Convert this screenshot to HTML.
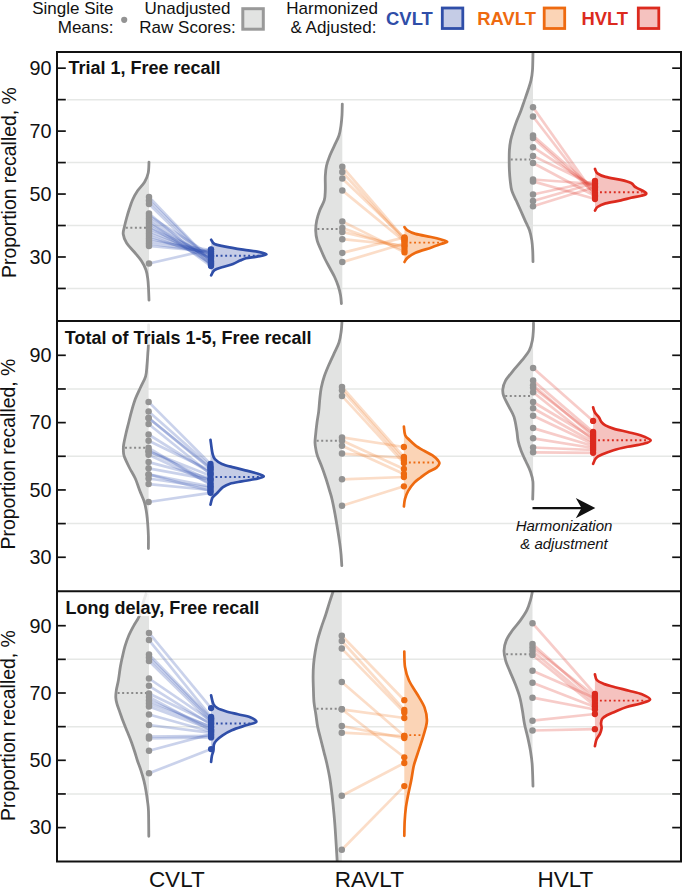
<!DOCTYPE html>
<html><head><meta charset="utf-8"><title>chart</title>
<style>html,body{margin:0;padding:0;background:#fff;}svg{display:block;}</style>
</head><body>
<svg width="685" height="889" viewBox="0 0 685 889" font-family='"Liberation Sans", sans-serif'>
<rect width="685" height="889" fill="#ffffff"/>
<defs>
<clipPath id="c0"><rect x="57" y="52" width="624" height="269"/></clipPath>
<clipPath id="c1"><rect x="57" y="321" width="624" height="270.3"/></clipPath>
<clipPath id="c2"><rect x="57" y="591.3" width="624" height="270.2"/></clipPath>
</defs>
<g clip-path="url(#c0)">
<line x1="67" x2="671" y1="288.46" y2="288.46" stroke="#e6e8e6" stroke-width="1.5"/>
<line x1="67" x2="671" y1="225.52" y2="225.52" stroke="#e6e8e6" stroke-width="1.5"/>
<line x1="67" x2="671" y1="162.58" y2="162.58" stroke="#e6e8e6" stroke-width="1.5"/>
<line x1="67" x2="671" y1="99.64" y2="99.64" stroke="#e6e8e6" stroke-width="1.5"/>
<path d="M149.00,162.20 C148.87,164.00 148.93,169.70 148.20,173.00 C147.47,176.30 146.40,179.00 144.60,182.00 C142.80,185.00 139.42,188.00 137.40,191.00 C135.38,194.00 133.85,197.00 132.50,200.00 C131.15,203.00 130.28,206.00 129.30,209.00 C128.32,212.00 127.38,215.17 126.60,218.00 C125.82,220.83 125.17,223.33 124.60,226.00 C124.03,228.67 122.87,231.17 123.20,234.00 C123.53,236.83 124.75,240.00 126.60,243.00 C128.45,246.00 131.82,249.00 134.30,252.00 C136.78,255.00 139.55,258.00 141.50,261.00 C143.45,264.00 144.95,267.00 146.00,270.00 C147.05,273.00 147.38,276.00 147.80,279.00 C148.22,282.00 148.30,284.48 148.50,288.00 C148.70,291.52 148.92,298.08 149.00,300.10 L149.00,300.10 L149.00,162.20 Z" fill="#e2e3e2"/>
<path d="M149.00,162.20 C148.87,164.00 148.93,169.70 148.20,173.00 C147.47,176.30 146.40,179.00 144.60,182.00 C142.80,185.00 139.42,188.00 137.40,191.00 C135.38,194.00 133.85,197.00 132.50,200.00 C131.15,203.00 130.28,206.00 129.30,209.00 C128.32,212.00 127.38,215.17 126.60,218.00 C125.82,220.83 125.17,223.33 124.60,226.00 C124.03,228.67 122.87,231.17 123.20,234.00 C123.53,236.83 124.75,240.00 126.60,243.00 C128.45,246.00 131.82,249.00 134.30,252.00 C136.78,255.00 139.55,258.00 141.50,261.00 C143.45,264.00 144.95,267.00 146.00,270.00 C147.05,273.00 147.38,276.00 147.80,279.00 C148.22,282.00 148.30,284.48 148.50,288.00 C148.70,291.52 148.92,298.08 149.00,300.10" fill="none" stroke="#8e8e8e" stroke-width="2.8" stroke-linecap="round"/>
<line x1="125.80" x2="146.50" y1="227.70" y2="227.70" stroke="#8a8a8a" stroke-width="2" stroke-dasharray="2 2.55"/>
<line x1="149.00" y1="197.00" x2="211.00" y2="261.81" stroke="#3453b0" stroke-opacity="0.26" stroke-width="2.7"/>
<line x1="149.00" y1="200.50" x2="211.00" y2="261.80" stroke="#3453b0" stroke-opacity="0.26" stroke-width="2.7"/>
<line x1="149.00" y1="204.00" x2="211.00" y2="264.66" stroke="#3453b0" stroke-opacity="0.26" stroke-width="2.7"/>
<line x1="149.00" y1="213.50" x2="211.00" y2="264.91" stroke="#3453b0" stroke-opacity="0.26" stroke-width="2.7"/>
<line x1="149.00" y1="216.00" x2="211.00" y2="255.17" stroke="#3453b0" stroke-opacity="0.26" stroke-width="2.7"/>
<line x1="149.00" y1="218.50" x2="211.00" y2="260.56" stroke="#3453b0" stroke-opacity="0.26" stroke-width="2.7"/>
<line x1="149.00" y1="221.00" x2="211.00" y2="266.04" stroke="#3453b0" stroke-opacity="0.26" stroke-width="2.7"/>
<line x1="149.00" y1="223.50" x2="211.00" y2="258.87" stroke="#3453b0" stroke-opacity="0.26" stroke-width="2.7"/>
<line x1="149.00" y1="226.00" x2="211.00" y2="263.17" stroke="#3453b0" stroke-opacity="0.26" stroke-width="2.7"/>
<line x1="149.00" y1="228.50" x2="211.00" y2="254.65" stroke="#3453b0" stroke-opacity="0.26" stroke-width="2.7"/>
<line x1="149.00" y1="231.00" x2="211.00" y2="256.77" stroke="#3453b0" stroke-opacity="0.26" stroke-width="2.7"/>
<line x1="149.00" y1="233.50" x2="211.00" y2="256.20" stroke="#3453b0" stroke-opacity="0.26" stroke-width="2.7"/>
<line x1="149.00" y1="236.00" x2="211.00" y2="257.85" stroke="#3453b0" stroke-opacity="0.26" stroke-width="2.7"/>
<line x1="149.00" y1="238.50" x2="211.00" y2="253.34" stroke="#3453b0" stroke-opacity="0.26" stroke-width="2.7"/>
<line x1="149.00" y1="241.00" x2="211.00" y2="249.97" stroke="#3453b0" stroke-opacity="0.26" stroke-width="2.7"/>
<line x1="149.00" y1="243.50" x2="211.00" y2="252.10" stroke="#3453b0" stroke-opacity="0.26" stroke-width="2.7"/>
<line x1="149.00" y1="246.00" x2="211.00" y2="251.56" stroke="#3453b0" stroke-opacity="0.26" stroke-width="2.7"/>
<line x1="149.00" y1="263.50" x2="211.00" y2="249.29" stroke="#3453b0" stroke-opacity="0.26" stroke-width="2.7"/>
<circle cx="149.00" cy="197.00" r="3.25" fill="#939393"/>
<circle cx="149.00" cy="200.50" r="3.25" fill="#939393"/>
<circle cx="149.00" cy="204.00" r="3.25" fill="#939393"/>
<circle cx="149.00" cy="213.50" r="3.25" fill="#939393"/>
<circle cx="149.00" cy="216.00" r="3.25" fill="#939393"/>
<circle cx="149.00" cy="218.50" r="3.25" fill="#939393"/>
<circle cx="149.00" cy="221.00" r="3.25" fill="#939393"/>
<circle cx="149.00" cy="223.50" r="3.25" fill="#939393"/>
<circle cx="149.00" cy="226.00" r="3.25" fill="#939393"/>
<circle cx="149.00" cy="228.50" r="3.25" fill="#939393"/>
<circle cx="149.00" cy="231.00" r="3.25" fill="#939393"/>
<circle cx="149.00" cy="233.50" r="3.25" fill="#939393"/>
<circle cx="149.00" cy="236.00" r="3.25" fill="#939393"/>
<circle cx="149.00" cy="238.50" r="3.25" fill="#939393"/>
<circle cx="149.00" cy="241.00" r="3.25" fill="#939393"/>
<circle cx="149.00" cy="243.50" r="3.25" fill="#939393"/>
<circle cx="149.00" cy="246.00" r="3.25" fill="#939393"/>
<circle cx="149.00" cy="263.50" r="3.25" fill="#939393"/>
<path d="M211.20,239.70 C211.75,240.42 212.37,242.88 214.50,244.00 C216.63,245.12 219.25,245.45 224.00,246.40 C228.75,247.35 237.47,248.83 243.00,249.70 C248.53,250.57 253.28,250.82 257.20,251.60 C261.12,252.38 266.53,253.57 266.50,254.40 C266.47,255.23 260.42,255.95 257.00,256.60 C253.58,257.25 248.83,257.63 246.00,258.30 C243.17,258.97 242.17,259.65 240.00,260.60 C237.83,261.55 235.83,262.93 233.00,264.00 C230.17,265.07 226.08,265.98 223.00,267.00 C219.92,268.02 216.47,268.72 214.50,270.10 C212.53,271.48 211.75,274.43 211.20,275.30 Z" fill="#c5cce6"/>
<path d="M211.20,239.70 C211.75,240.42 212.37,242.88 214.50,244.00 C216.63,245.12 219.25,245.45 224.00,246.40 C228.75,247.35 237.47,248.83 243.00,249.70 C248.53,250.57 253.28,250.82 257.20,251.60 C261.12,252.38 266.53,253.57 266.50,254.40 C266.47,255.23 260.42,255.95 257.00,256.60 C253.58,257.25 248.83,257.63 246.00,258.30 C243.17,258.97 242.17,259.65 240.00,260.60 C237.83,261.55 235.83,262.93 233.00,264.00 C230.17,265.07 226.08,265.98 223.00,267.00 C219.92,268.02 216.47,268.72 214.50,270.10 C212.53,271.48 211.75,274.43 211.20,275.30" fill="none" stroke="#2f4ea8" stroke-width="2.7" stroke-linecap="round"/>
<circle cx="211.00" cy="261.81" r="3.15" fill="#2f4ea8"/>
<circle cx="211.00" cy="261.80" r="3.15" fill="#2f4ea8"/>
<circle cx="211.00" cy="264.66" r="3.15" fill="#2f4ea8"/>
<circle cx="211.00" cy="264.91" r="3.15" fill="#2f4ea8"/>
<circle cx="211.00" cy="255.17" r="3.15" fill="#2f4ea8"/>
<circle cx="211.00" cy="260.56" r="3.15" fill="#2f4ea8"/>
<circle cx="211.00" cy="266.04" r="3.15" fill="#2f4ea8"/>
<circle cx="211.00" cy="258.87" r="3.15" fill="#2f4ea8"/>
<circle cx="211.00" cy="263.17" r="3.15" fill="#2f4ea8"/>
<circle cx="211.00" cy="254.65" r="3.15" fill="#2f4ea8"/>
<circle cx="211.00" cy="256.77" r="3.15" fill="#2f4ea8"/>
<circle cx="211.00" cy="256.20" r="3.15" fill="#2f4ea8"/>
<circle cx="211.00" cy="257.85" r="3.15" fill="#2f4ea8"/>
<circle cx="211.00" cy="253.34" r="3.15" fill="#2f4ea8"/>
<circle cx="211.00" cy="249.97" r="3.15" fill="#2f4ea8"/>
<circle cx="211.00" cy="252.10" r="3.15" fill="#2f4ea8"/>
<circle cx="211.00" cy="251.56" r="3.15" fill="#2f4ea8"/>
<circle cx="211.00" cy="249.29" r="3.15" fill="#2f4ea8"/>
<line x1="216.00" x2="262.50" y1="255.70" y2="255.70" stroke="#2f4ea8" stroke-width="1.9" stroke-dasharray="1.9 2.7"/>
<path d="M342.30,104.10 C342.25,105.95 342.22,111.65 342.00,115.20 C341.78,118.75 341.50,122.02 341.00,125.40 C340.50,128.78 340.10,132.13 339.00,135.50 C337.90,138.87 335.93,142.23 334.40,145.60 C332.87,148.97 331.12,152.33 329.80,155.70 C328.48,159.07 327.25,162.42 326.50,165.80 C325.75,169.18 325.50,171.95 325.30,176.00 C325.10,180.05 325.47,186.07 325.30,190.10 C325.13,194.13 325.23,196.82 324.30,200.20 C323.37,203.58 320.97,207.02 319.70,210.40 C318.43,213.78 317.37,217.13 316.70,220.50 C316.03,223.87 315.62,227.23 315.70,230.60 C315.78,233.97 316.32,237.47 317.20,240.70 C318.08,243.93 319.70,246.95 321.00,250.00 C322.30,253.05 323.53,256.00 325.00,259.00 C326.47,262.00 328.20,265.00 329.80,268.00 C331.40,271.00 333.20,274.00 334.60,277.00 C336.00,280.00 337.22,283.00 338.20,286.00 C339.18,289.00 339.97,292.08 340.50,295.00 C341.03,297.92 341.25,302.08 341.40,303.50 L342.30,303.50 L342.30,104.10 Z" fill="#e2e3e2"/>
<path d="M342.30,104.10 C342.25,105.95 342.22,111.65 342.00,115.20 C341.78,118.75 341.50,122.02 341.00,125.40 C340.50,128.78 340.10,132.13 339.00,135.50 C337.90,138.87 335.93,142.23 334.40,145.60 C332.87,148.97 331.12,152.33 329.80,155.70 C328.48,159.07 327.25,162.42 326.50,165.80 C325.75,169.18 325.50,171.95 325.30,176.00 C325.10,180.05 325.47,186.07 325.30,190.10 C325.13,194.13 325.23,196.82 324.30,200.20 C323.37,203.58 320.97,207.02 319.70,210.40 C318.43,213.78 317.37,217.13 316.70,220.50 C316.03,223.87 315.62,227.23 315.70,230.60 C315.78,233.97 316.32,237.47 317.20,240.70 C318.08,243.93 319.70,246.95 321.00,250.00 C322.30,253.05 323.53,256.00 325.00,259.00 C326.47,262.00 328.20,265.00 329.80,268.00 C331.40,271.00 333.20,274.00 334.60,277.00 C336.00,280.00 337.22,283.00 338.20,286.00 C339.18,289.00 339.97,292.08 340.50,295.00 C341.03,297.92 341.25,302.08 341.40,303.50" fill="none" stroke="#8e8e8e" stroke-width="2.8" stroke-linecap="round"/>
<line x1="317.37" x2="339.80" y1="228.90" y2="228.90" stroke="#8a8a8a" stroke-width="2" stroke-dasharray="2 2.55"/>
<line x1="342.30" y1="166.70" x2="404.50" y2="239.00" stroke="#f07a2a" stroke-opacity="0.26" stroke-width="2.7"/>
<line x1="342.30" y1="172.00" x2="404.50" y2="240.50" stroke="#f07a2a" stroke-opacity="0.26" stroke-width="2.7"/>
<line x1="342.30" y1="178.50" x2="404.50" y2="238.00" stroke="#f07a2a" stroke-opacity="0.26" stroke-width="2.7"/>
<line x1="342.30" y1="190.40" x2="404.50" y2="241.50" stroke="#f07a2a" stroke-opacity="0.26" stroke-width="2.7"/>
<line x1="342.30" y1="221.40" x2="404.50" y2="252.40" stroke="#f07a2a" stroke-opacity="0.26" stroke-width="2.7"/>
<line x1="342.30" y1="228.00" x2="404.50" y2="250.00" stroke="#f07a2a" stroke-opacity="0.26" stroke-width="2.7"/>
<line x1="342.30" y1="231.90" x2="404.50" y2="247.00" stroke="#f07a2a" stroke-opacity="0.26" stroke-width="2.7"/>
<line x1="342.30" y1="239.20" x2="404.50" y2="245.50" stroke="#f07a2a" stroke-opacity="0.26" stroke-width="2.7"/>
<line x1="342.30" y1="252.90" x2="404.50" y2="237.40" stroke="#f07a2a" stroke-opacity="0.26" stroke-width="2.7"/>
<line x1="342.30" y1="262.10" x2="404.50" y2="243.50" stroke="#f07a2a" stroke-opacity="0.26" stroke-width="2.7"/>
<circle cx="342.30" cy="166.70" r="3.25" fill="#939393"/>
<circle cx="342.30" cy="172.00" r="3.25" fill="#939393"/>
<circle cx="342.30" cy="178.50" r="3.25" fill="#939393"/>
<circle cx="342.30" cy="190.40" r="3.25" fill="#939393"/>
<circle cx="342.30" cy="221.40" r="3.25" fill="#939393"/>
<circle cx="342.30" cy="228.00" r="3.25" fill="#939393"/>
<circle cx="342.30" cy="231.90" r="3.25" fill="#939393"/>
<circle cx="342.30" cy="239.20" r="3.25" fill="#939393"/>
<circle cx="342.30" cy="252.90" r="3.25" fill="#939393"/>
<circle cx="342.30" cy="262.10" r="3.25" fill="#939393"/>
<path d="M404.50,227.10 C404.98,227.63 405.57,229.17 407.40,230.30 C409.23,231.43 411.58,232.78 415.50,233.90 C419.42,235.02 426.63,236.07 430.90,237.00 C435.17,237.93 438.38,238.70 441.10,239.50 C443.82,240.30 447.22,241.03 447.20,241.80 C447.18,242.57 443.72,243.12 441.00,244.10 C438.28,245.08 435.15,246.25 430.90,247.70 C426.65,249.15 419.42,251.10 415.50,252.80 C411.58,254.50 409.23,256.37 407.40,257.90 C405.57,259.43 404.98,261.32 404.50,262.00 Z" fill="#fbd4b6"/>
<path d="M404.50,227.10 C404.98,227.63 405.57,229.17 407.40,230.30 C409.23,231.43 411.58,232.78 415.50,233.90 C419.42,235.02 426.63,236.07 430.90,237.00 C435.17,237.93 438.38,238.70 441.10,239.50 C443.82,240.30 447.22,241.03 447.20,241.80 C447.18,242.57 443.72,243.12 441.00,244.10 C438.28,245.08 435.15,246.25 430.90,247.70 C426.65,249.15 419.42,251.10 415.50,252.80 C411.58,254.50 409.23,256.37 407.40,257.90 C405.57,259.43 404.98,261.32 404.50,262.00" fill="none" stroke="#ee6a10" stroke-width="2.7" stroke-linecap="round"/>
<circle cx="404.50" cy="239.00" r="3.15" fill="#ee6a10"/>
<circle cx="404.50" cy="240.50" r="3.15" fill="#ee6a10"/>
<circle cx="404.50" cy="238.00" r="3.15" fill="#ee6a10"/>
<circle cx="404.50" cy="241.50" r="3.15" fill="#ee6a10"/>
<circle cx="404.50" cy="252.40" r="3.15" fill="#ee6a10"/>
<circle cx="404.50" cy="250.00" r="3.15" fill="#ee6a10"/>
<circle cx="404.50" cy="247.00" r="3.15" fill="#ee6a10"/>
<circle cx="404.50" cy="245.50" r="3.15" fill="#ee6a10"/>
<circle cx="404.50" cy="237.40" r="3.15" fill="#ee6a10"/>
<circle cx="404.50" cy="243.50" r="3.15" fill="#ee6a10"/>
<line x1="409.50" x2="443.20" y1="242.60" y2="242.60" stroke="#ee6a10" stroke-width="1.9" stroke-dasharray="1.9 2.7"/>
<path d="M533.00,52.00 C532.92,55.03 532.83,65.47 532.50,70.20 C532.17,74.93 531.77,77.02 531.00,80.40 C530.23,83.78 529.00,87.13 527.90,90.50 C526.80,93.87 525.57,97.23 524.40,100.60 C523.23,103.97 522.17,107.33 520.90,110.70 C519.63,114.07 518.07,117.42 516.80,120.80 C515.53,124.18 514.32,127.78 513.30,131.00 C512.28,134.22 511.35,136.90 510.70,140.10 C510.05,143.30 509.65,146.82 509.40,150.20 C509.15,153.58 509.20,157.02 509.20,160.40 C509.20,163.78 509.23,167.13 509.40,170.50 C509.57,173.87 509.80,177.23 510.20,180.60 C510.60,183.97 510.78,187.33 511.80,190.70 C512.82,194.07 514.78,197.42 516.30,200.80 C517.82,204.18 519.47,207.78 520.90,211.00 C522.33,214.22 523.47,216.90 524.90,220.10 C526.33,223.30 528.35,226.82 529.50,230.20 C530.65,233.58 531.27,237.02 531.80,240.40 C532.33,243.78 532.50,246.97 532.70,250.50 C532.90,254.03 532.95,259.75 533.00,261.60 L533.00,261.60 L533.00,52.00 Z" fill="#e2e3e2"/>
<path d="M533.00,52.00 C532.92,55.03 532.83,65.47 532.50,70.20 C532.17,74.93 531.77,77.02 531.00,80.40 C530.23,83.78 529.00,87.13 527.90,90.50 C526.80,93.87 525.57,97.23 524.40,100.60 C523.23,103.97 522.17,107.33 520.90,110.70 C519.63,114.07 518.07,117.42 516.80,120.80 C515.53,124.18 514.32,127.78 513.30,131.00 C512.28,134.22 511.35,136.90 510.70,140.10 C510.05,143.30 509.65,146.82 509.40,150.20 C509.15,153.58 509.20,157.02 509.20,160.40 C509.20,163.78 509.23,167.13 509.40,170.50 C509.57,173.87 509.80,177.23 510.20,180.60 C510.60,183.97 510.78,187.33 511.80,190.70 C512.82,194.07 514.78,197.42 516.30,200.80 C517.82,204.18 519.47,207.78 520.90,211.00 C522.33,214.22 523.47,216.90 524.90,220.10 C526.33,223.30 528.35,226.82 529.50,230.20 C530.65,233.58 531.27,237.02 531.80,240.40 C532.33,243.78 532.50,246.97 532.70,250.50 C532.90,254.03 532.95,259.75 533.00,261.60" fill="none" stroke="#8e8e8e" stroke-width="2.8" stroke-linecap="round"/>
<line x1="510.72" x2="530.50" y1="159.60" y2="159.60" stroke="#8a8a8a" stroke-width="2" stroke-dasharray="2 2.55"/>
<line x1="533.00" y1="107.30" x2="595.00" y2="195.00" stroke="#e03a30" stroke-opacity="0.26" stroke-width="2.7"/>
<line x1="533.00" y1="116.50" x2="595.00" y2="197.00" stroke="#e03a30" stroke-opacity="0.26" stroke-width="2.7"/>
<line x1="533.00" y1="135.40" x2="595.00" y2="190.00" stroke="#e03a30" stroke-opacity="0.26" stroke-width="2.7"/>
<line x1="533.00" y1="138.00" x2="595.00" y2="193.00" stroke="#e03a30" stroke-opacity="0.26" stroke-width="2.7"/>
<line x1="533.00" y1="147.20" x2="595.00" y2="188.00" stroke="#e03a30" stroke-opacity="0.26" stroke-width="2.7"/>
<line x1="533.00" y1="155.90" x2="595.00" y2="186.00" stroke="#e03a30" stroke-opacity="0.26" stroke-width="2.7"/>
<line x1="533.00" y1="163.00" x2="595.00" y2="196.00" stroke="#e03a30" stroke-opacity="0.26" stroke-width="2.7"/>
<line x1="533.00" y1="179.50" x2="595.00" y2="184.00" stroke="#e03a30" stroke-opacity="0.26" stroke-width="2.7"/>
<line x1="533.00" y1="181.40" x2="595.00" y2="199.00" stroke="#e03a30" stroke-opacity="0.26" stroke-width="2.7"/>
<line x1="533.00" y1="194.50" x2="595.00" y2="181.00" stroke="#e03a30" stroke-opacity="0.26" stroke-width="2.7"/>
<line x1="533.00" y1="201.00" x2="595.00" y2="183.00" stroke="#e03a30" stroke-opacity="0.26" stroke-width="2.7"/>
<line x1="533.00" y1="206.30" x2="595.00" y2="187.00" stroke="#e03a30" stroke-opacity="0.26" stroke-width="2.7"/>
<circle cx="533.00" cy="107.30" r="3.25" fill="#939393"/>
<circle cx="533.00" cy="116.50" r="3.25" fill="#939393"/>
<circle cx="533.00" cy="135.40" r="3.25" fill="#939393"/>
<circle cx="533.00" cy="138.00" r="3.25" fill="#939393"/>
<circle cx="533.00" cy="147.20" r="3.25" fill="#939393"/>
<circle cx="533.00" cy="155.90" r="3.25" fill="#939393"/>
<circle cx="533.00" cy="163.00" r="3.25" fill="#939393"/>
<circle cx="533.00" cy="179.50" r="3.25" fill="#939393"/>
<circle cx="533.00" cy="181.40" r="3.25" fill="#939393"/>
<circle cx="533.00" cy="194.50" r="3.25" fill="#939393"/>
<circle cx="533.00" cy="201.00" r="3.25" fill="#939393"/>
<circle cx="533.00" cy="206.30" r="3.25" fill="#939393"/>
<path d="M595.00,169.00 C595.40,169.72 595.65,171.98 597.40,173.30 C599.15,174.62 601.58,175.80 605.50,176.90 C609.42,178.00 616.63,178.88 620.90,179.90 C625.17,180.92 628.88,181.97 631.10,183.00 C633.32,184.03 633.18,185.25 634.20,186.10 C635.22,186.95 635.20,186.92 637.20,188.10 C639.20,189.28 645.52,191.92 646.20,193.20 C646.88,194.48 643.82,195.03 641.30,195.80 C638.78,196.57 634.50,197.03 631.10,197.80 C627.70,198.57 625.17,199.47 620.90,200.40 C616.63,201.33 609.42,202.30 605.50,203.40 C601.58,204.50 599.15,205.80 597.40,207.00 C595.65,208.20 595.40,210.00 595.00,210.60 Z" fill="#f5c2bf"/>
<path d="M595.00,169.00 C595.40,169.72 595.65,171.98 597.40,173.30 C599.15,174.62 601.58,175.80 605.50,176.90 C609.42,178.00 616.63,178.88 620.90,179.90 C625.17,180.92 628.88,181.97 631.10,183.00 C633.32,184.03 633.18,185.25 634.20,186.10 C635.22,186.95 635.20,186.92 637.20,188.10 C639.20,189.28 645.52,191.92 646.20,193.20 C646.88,194.48 643.82,195.03 641.30,195.80 C638.78,196.57 634.50,197.03 631.10,197.80 C627.70,198.57 625.17,199.47 620.90,200.40 C616.63,201.33 609.42,202.30 605.50,203.40 C601.58,204.50 599.15,205.80 597.40,207.00 C595.65,208.20 595.40,210.00 595.00,210.60" fill="none" stroke="#dc2a1e" stroke-width="2.7" stroke-linecap="round"/>
<circle cx="595.00" cy="195.00" r="3.15" fill="#dc2a1e"/>
<circle cx="595.00" cy="197.00" r="3.15" fill="#dc2a1e"/>
<circle cx="595.00" cy="190.00" r="3.15" fill="#dc2a1e"/>
<circle cx="595.00" cy="193.00" r="3.15" fill="#dc2a1e"/>
<circle cx="595.00" cy="188.00" r="3.15" fill="#dc2a1e"/>
<circle cx="595.00" cy="186.00" r="3.15" fill="#dc2a1e"/>
<circle cx="595.00" cy="196.00" r="3.15" fill="#dc2a1e"/>
<circle cx="595.00" cy="184.00" r="3.15" fill="#dc2a1e"/>
<circle cx="595.00" cy="199.00" r="3.15" fill="#dc2a1e"/>
<circle cx="595.00" cy="181.00" r="3.15" fill="#dc2a1e"/>
<circle cx="595.00" cy="183.00" r="3.15" fill="#dc2a1e"/>
<circle cx="595.00" cy="187.00" r="3.15" fill="#dc2a1e"/>
<line x1="600.00" x2="642.20" y1="192.20" y2="192.20" stroke="#dc2a1e" stroke-width="1.9" stroke-dasharray="1.9 2.7"/>
</g>
<rect x="58" y="53.0" width="165" height="23.2" fill="#ffffff" fill-opacity="0.82"/>
<text x="68.4" y="74.2" font-size="18" font-weight="bold" fill="#111">Trial 1, Free recall</text>
<line x1="57" x2="65.8" y1="288.46" y2="288.46" stroke="#111" stroke-width="1.7"/>
<line x1="672.2" x2="681" y1="288.46" y2="288.46" stroke="#111" stroke-width="1.7"/>
<line x1="57" x2="65.8" y1="256.99" y2="256.99" stroke="#111" stroke-width="1.7"/>
<line x1="672.2" x2="681" y1="256.99" y2="256.99" stroke="#111" stroke-width="1.7"/>
<text x="51.5" y="263.79" font-size="19.8" text-anchor="end" fill="#111">30</text>
<line x1="57" x2="65.8" y1="225.52" y2="225.52" stroke="#111" stroke-width="1.7"/>
<line x1="672.2" x2="681" y1="225.52" y2="225.52" stroke="#111" stroke-width="1.7"/>
<line x1="57" x2="65.8" y1="194.05" y2="194.05" stroke="#111" stroke-width="1.7"/>
<line x1="672.2" x2="681" y1="194.05" y2="194.05" stroke="#111" stroke-width="1.7"/>
<text x="51.5" y="200.85" font-size="19.8" text-anchor="end" fill="#111">50</text>
<line x1="57" x2="65.8" y1="162.58" y2="162.58" stroke="#111" stroke-width="1.7"/>
<line x1="672.2" x2="681" y1="162.58" y2="162.58" stroke="#111" stroke-width="1.7"/>
<line x1="57" x2="65.8" y1="131.11" y2="131.11" stroke="#111" stroke-width="1.7"/>
<line x1="672.2" x2="681" y1="131.11" y2="131.11" stroke="#111" stroke-width="1.7"/>
<text x="51.5" y="137.91" font-size="19.8" text-anchor="end" fill="#111">70</text>
<line x1="57" x2="65.8" y1="99.64" y2="99.64" stroke="#111" stroke-width="1.7"/>
<line x1="672.2" x2="681" y1="99.64" y2="99.64" stroke="#111" stroke-width="1.7"/>
<line x1="57" x2="65.8" y1="68.17" y2="68.17" stroke="#111" stroke-width="1.7"/>
<line x1="672.2" x2="681" y1="68.17" y2="68.17" stroke="#111" stroke-width="1.7"/>
<text x="51.5" y="74.97" font-size="19.8" text-anchor="end" fill="#111">90</text>
<text transform="translate(16.2,182.6) rotate(-90)" font-size="19.4" text-anchor="middle" fill="#111">Proportion recalled, %</text>
<g clip-path="url(#c1)">
<line x1="67" x2="671" y1="523.60" y2="523.60" stroke="#e6e8e6" stroke-width="1.5"/>
<line x1="67" x2="671" y1="456.28" y2="456.28" stroke="#e6e8e6" stroke-width="1.5"/>
<line x1="67" x2="671" y1="388.96" y2="388.96" stroke="#e6e8e6" stroke-width="1.5"/>
<path d="M148.60,325.00 C148.57,328.20 148.53,339.40 148.40,344.20 C148.27,349.00 148.03,350.33 147.80,353.80 C147.57,357.27 147.37,361.25 147.00,365.00 C146.63,368.75 146.68,372.55 145.60,376.30 C144.52,380.05 142.20,383.75 140.50,387.50 C138.80,391.25 136.90,394.83 135.40,398.80 C133.90,402.77 132.62,407.35 131.50,411.30 C130.38,415.25 129.63,418.75 128.70,422.50 C127.77,426.25 126.75,430.05 125.90,433.80 C125.05,437.55 124.02,442.20 123.60,445.00 C123.18,447.80 123.30,448.72 123.40,450.60 C123.50,452.48 123.22,453.48 124.20,456.30 C125.18,459.12 127.43,463.75 129.30,467.50 C131.17,471.25 133.62,474.83 135.40,478.80 C137.18,482.77 138.48,487.35 140.00,491.30 C141.52,495.25 143.38,498.75 144.50,502.50 C145.62,506.25 146.15,510.05 146.70,513.80 C147.25,517.55 147.52,521.25 147.80,525.00 C148.08,528.75 148.30,532.37 148.40,536.30 C148.50,540.23 148.40,546.55 148.40,548.60 L148.60,548.60 L148.60,325.00 Z" fill="#e2e3e2"/>
<path d="M148.60,325.00 C148.57,328.20 148.53,339.40 148.40,344.20 C148.27,349.00 148.03,350.33 147.80,353.80 C147.57,357.27 147.37,361.25 147.00,365.00 C146.63,368.75 146.68,372.55 145.60,376.30 C144.52,380.05 142.20,383.75 140.50,387.50 C138.80,391.25 136.90,394.83 135.40,398.80 C133.90,402.77 132.62,407.35 131.50,411.30 C130.38,415.25 129.63,418.75 128.70,422.50 C127.77,426.25 126.75,430.05 125.90,433.80 C125.05,437.55 124.02,442.20 123.60,445.00 C123.18,447.80 123.30,448.72 123.40,450.60 C123.50,452.48 123.22,453.48 124.20,456.30 C125.18,459.12 127.43,463.75 129.30,467.50 C131.17,471.25 133.62,474.83 135.40,478.80 C137.18,482.77 138.48,487.35 140.00,491.30 C141.52,495.25 143.38,498.75 144.50,502.50 C145.62,506.25 146.15,510.05 146.70,513.80 C147.25,517.55 147.52,521.25 147.80,525.00 C148.08,528.75 148.30,532.37 148.40,536.30 C148.50,540.23 148.40,546.55 148.40,548.60" fill="none" stroke="#8e8e8e" stroke-width="2.8" stroke-linecap="round"/>
<line x1="125.00" x2="146.10" y1="447.80" y2="447.80" stroke="#8a8a8a" stroke-width="2" stroke-dasharray="2 2.55"/>
<line x1="148.60" y1="401.90" x2="210.50" y2="463.99" stroke="#3453b0" stroke-opacity="0.26" stroke-width="2.7"/>
<line x1="148.60" y1="411.50" x2="210.50" y2="466.32" stroke="#3453b0" stroke-opacity="0.26" stroke-width="2.7"/>
<line x1="148.60" y1="418.00" x2="210.50" y2="469.01" stroke="#3453b0" stroke-opacity="0.26" stroke-width="2.7"/>
<line x1="148.60" y1="418.00" x2="210.50" y2="467.94" stroke="#3453b0" stroke-opacity="0.26" stroke-width="2.7"/>
<line x1="148.60" y1="424.00" x2="210.50" y2="474.02" stroke="#3453b0" stroke-opacity="0.26" stroke-width="2.7"/>
<line x1="148.60" y1="434.50" x2="210.50" y2="473.20" stroke="#3453b0" stroke-opacity="0.26" stroke-width="2.7"/>
<line x1="148.60" y1="440.80" x2="210.50" y2="470.77" stroke="#3453b0" stroke-opacity="0.26" stroke-width="2.7"/>
<line x1="148.60" y1="447.80" x2="210.50" y2="484.94" stroke="#3453b0" stroke-opacity="0.26" stroke-width="2.7"/>
<line x1="148.60" y1="451.30" x2="210.50" y2="475.64" stroke="#3453b0" stroke-opacity="0.26" stroke-width="2.7"/>
<line x1="148.60" y1="451.30" x2="210.50" y2="480.71" stroke="#3453b0" stroke-opacity="0.26" stroke-width="2.7"/>
<line x1="148.60" y1="454.80" x2="210.50" y2="483.29" stroke="#3453b0" stroke-opacity="0.26" stroke-width="2.7"/>
<line x1="148.60" y1="462.10" x2="210.50" y2="478.35" stroke="#3453b0" stroke-opacity="0.26" stroke-width="2.7"/>
<line x1="148.60" y1="468.30" x2="210.50" y2="479.57" stroke="#3453b0" stroke-opacity="0.26" stroke-width="2.7"/>
<line x1="148.60" y1="474.40" x2="210.50" y2="491.06" stroke="#3453b0" stroke-opacity="0.26" stroke-width="2.7"/>
<line x1="148.60" y1="474.40" x2="210.50" y2="486.65" stroke="#3453b0" stroke-opacity="0.26" stroke-width="2.7"/>
<line x1="148.60" y1="478.50" x2="210.50" y2="487.73" stroke="#3453b0" stroke-opacity="0.26" stroke-width="2.7"/>
<line x1="148.60" y1="484.10" x2="210.50" y2="490.00" stroke="#3453b0" stroke-opacity="0.26" stroke-width="2.7"/>
<line x1="148.60" y1="502.00" x2="210.50" y2="492.79" stroke="#3453b0" stroke-opacity="0.26" stroke-width="2.7"/>
<circle cx="148.60" cy="401.90" r="3.25" fill="#939393"/>
<circle cx="148.60" cy="411.50" r="3.25" fill="#939393"/>
<circle cx="148.60" cy="418.00" r="3.25" fill="#939393"/>
<circle cx="148.60" cy="418.00" r="3.25" fill="#939393"/>
<circle cx="148.60" cy="424.00" r="3.25" fill="#939393"/>
<circle cx="148.60" cy="434.50" r="3.25" fill="#939393"/>
<circle cx="148.60" cy="440.80" r="3.25" fill="#939393"/>
<circle cx="148.60" cy="447.80" r="3.25" fill="#939393"/>
<circle cx="148.60" cy="451.30" r="3.25" fill="#939393"/>
<circle cx="148.60" cy="451.30" r="3.25" fill="#939393"/>
<circle cx="148.60" cy="454.80" r="3.25" fill="#939393"/>
<circle cx="148.60" cy="462.10" r="3.25" fill="#939393"/>
<circle cx="148.60" cy="468.30" r="3.25" fill="#939393"/>
<circle cx="148.60" cy="474.40" r="3.25" fill="#939393"/>
<circle cx="148.60" cy="474.40" r="3.25" fill="#939393"/>
<circle cx="148.60" cy="478.50" r="3.25" fill="#939393"/>
<circle cx="148.60" cy="484.10" r="3.25" fill="#939393"/>
<circle cx="148.60" cy="502.00" r="3.25" fill="#939393"/>
<path d="M210.50,439.90 C210.83,442.15 211.77,450.18 212.50,453.40 C213.23,456.62 213.33,457.45 214.90,459.20 C216.47,460.95 218.80,462.53 221.90,463.90 C225.00,465.27 229.22,466.23 233.50,467.40 C237.78,468.57 243.52,469.83 247.60,470.90 C251.68,471.97 255.32,472.87 258.00,473.80 C260.68,474.73 264.08,475.63 263.70,476.50 C263.32,477.37 259.37,478.18 255.70,479.00 C252.03,479.82 245.98,480.62 241.70,481.40 C237.42,482.18 233.12,482.73 230.00,483.70 C226.88,484.67 225.13,485.65 223.00,487.20 C220.87,488.75 218.95,491.25 217.20,493.00 C215.45,494.75 213.62,495.75 212.50,497.70 C211.38,499.65 210.83,503.53 210.50,504.70 Z" fill="#c5cce6"/>
<path d="M210.50,439.90 C210.83,442.15 211.77,450.18 212.50,453.40 C213.23,456.62 213.33,457.45 214.90,459.20 C216.47,460.95 218.80,462.53 221.90,463.90 C225.00,465.27 229.22,466.23 233.50,467.40 C237.78,468.57 243.52,469.83 247.60,470.90 C251.68,471.97 255.32,472.87 258.00,473.80 C260.68,474.73 264.08,475.63 263.70,476.50 C263.32,477.37 259.37,478.18 255.70,479.00 C252.03,479.82 245.98,480.62 241.70,481.40 C237.42,482.18 233.12,482.73 230.00,483.70 C226.88,484.67 225.13,485.65 223.00,487.20 C220.87,488.75 218.95,491.25 217.20,493.00 C215.45,494.75 213.62,495.75 212.50,497.70 C211.38,499.65 210.83,503.53 210.50,504.70" fill="none" stroke="#2f4ea8" stroke-width="2.7" stroke-linecap="round"/>
<circle cx="210.50" cy="463.99" r="3.15" fill="#2f4ea8"/>
<circle cx="210.50" cy="466.32" r="3.15" fill="#2f4ea8"/>
<circle cx="210.50" cy="469.01" r="3.15" fill="#2f4ea8"/>
<circle cx="210.50" cy="467.94" r="3.15" fill="#2f4ea8"/>
<circle cx="210.50" cy="474.02" r="3.15" fill="#2f4ea8"/>
<circle cx="210.50" cy="473.20" r="3.15" fill="#2f4ea8"/>
<circle cx="210.50" cy="470.77" r="3.15" fill="#2f4ea8"/>
<circle cx="210.50" cy="484.94" r="3.15" fill="#2f4ea8"/>
<circle cx="210.50" cy="475.64" r="3.15" fill="#2f4ea8"/>
<circle cx="210.50" cy="480.71" r="3.15" fill="#2f4ea8"/>
<circle cx="210.50" cy="483.29" r="3.15" fill="#2f4ea8"/>
<circle cx="210.50" cy="478.35" r="3.15" fill="#2f4ea8"/>
<circle cx="210.50" cy="479.57" r="3.15" fill="#2f4ea8"/>
<circle cx="210.50" cy="491.06" r="3.15" fill="#2f4ea8"/>
<circle cx="210.50" cy="486.65" r="3.15" fill="#2f4ea8"/>
<circle cx="210.50" cy="487.73" r="3.15" fill="#2f4ea8"/>
<circle cx="210.50" cy="490.00" r="3.15" fill="#2f4ea8"/>
<circle cx="210.50" cy="492.79" r="3.15" fill="#2f4ea8"/>
<line x1="215.50" x2="259.70" y1="477.00" y2="477.00" stroke="#2f4ea8" stroke-width="1.9" stroke-dasharray="1.9 2.7"/>
<path d="M342.00,321.00 C341.87,322.72 341.70,327.72 341.20,331.30 C340.70,334.88 340.22,338.75 339.00,342.50 C337.78,346.25 335.60,350.05 333.90,353.80 C332.20,357.55 330.40,361.25 328.80,365.00 C327.20,368.75 325.55,372.55 324.30,376.30 C323.05,380.05 322.05,383.75 321.30,387.50 C320.55,391.25 320.23,394.83 319.80,398.80 C319.37,402.77 319.17,407.35 318.70,411.30 C318.23,415.25 317.50,418.75 317.00,422.50 C316.50,426.25 316.03,430.42 315.70,433.80 C315.37,437.18 314.93,440.00 315.00,442.80 C315.07,445.60 315.67,448.35 316.10,450.60 C316.53,452.85 316.60,453.48 317.60,456.30 C318.60,459.12 320.70,463.75 322.10,467.50 C323.50,471.25 324.78,475.05 326.00,478.80 C327.22,482.55 328.37,486.47 329.40,490.00 C330.43,493.53 331.03,494.68 332.20,500.00 C333.37,505.32 335.02,513.75 336.40,521.90 C337.78,530.05 339.60,541.62 340.50,548.90 C341.40,556.18 341.58,562.82 341.80,565.60 L342.00,565.60 L342.00,321.00 Z" fill="#e2e3e2"/>
<path d="M342.00,321.00 C341.87,322.72 341.70,327.72 341.20,331.30 C340.70,334.88 340.22,338.75 339.00,342.50 C337.78,346.25 335.60,350.05 333.90,353.80 C332.20,357.55 330.40,361.25 328.80,365.00 C327.20,368.75 325.55,372.55 324.30,376.30 C323.05,380.05 322.05,383.75 321.30,387.50 C320.55,391.25 320.23,394.83 319.80,398.80 C319.37,402.77 319.17,407.35 318.70,411.30 C318.23,415.25 317.50,418.75 317.00,422.50 C316.50,426.25 316.03,430.42 315.70,433.80 C315.37,437.18 314.93,440.00 315.00,442.80 C315.07,445.60 315.67,448.35 316.10,450.60 C316.53,452.85 316.60,453.48 317.60,456.30 C318.60,459.12 320.70,463.75 322.10,467.50 C323.50,471.25 324.78,475.05 326.00,478.80 C327.22,482.55 328.37,486.47 329.40,490.00 C330.43,493.53 331.03,494.68 332.20,500.00 C333.37,505.32 335.02,513.75 336.40,521.90 C337.78,530.05 339.60,541.62 340.50,548.90 C341.40,556.18 341.58,562.82 341.80,565.60" fill="none" stroke="#8e8e8e" stroke-width="2.8" stroke-linecap="round"/>
<line x1="316.66" x2="339.50" y1="440.70" y2="440.70" stroke="#8a8a8a" stroke-width="2" stroke-dasharray="2 2.55"/>
<line x1="342.00" y1="387.00" x2="403.90" y2="457.00" stroke="#f07a2a" stroke-opacity="0.26" stroke-width="2.7"/>
<line x1="342.00" y1="390.20" x2="403.90" y2="460.00" stroke="#f07a2a" stroke-opacity="0.26" stroke-width="2.7"/>
<line x1="342.00" y1="395.90" x2="403.90" y2="463.00" stroke="#f07a2a" stroke-opacity="0.26" stroke-width="2.7"/>
<line x1="342.00" y1="437.40" x2="403.90" y2="447.00" stroke="#f07a2a" stroke-opacity="0.26" stroke-width="2.7"/>
<line x1="342.00" y1="440.40" x2="403.90" y2="469.00" stroke="#f07a2a" stroke-opacity="0.26" stroke-width="2.7"/>
<line x1="342.00" y1="445.80" x2="403.90" y2="474.00" stroke="#f07a2a" stroke-opacity="0.26" stroke-width="2.7"/>
<line x1="342.00" y1="453.60" x2="403.90" y2="458.00" stroke="#f07a2a" stroke-opacity="0.26" stroke-width="2.7"/>
<line x1="342.00" y1="479.30" x2="403.90" y2="477.00" stroke="#f07a2a" stroke-opacity="0.26" stroke-width="2.7"/>
<line x1="342.00" y1="505.70" x2="403.90" y2="486.30" stroke="#f07a2a" stroke-opacity="0.26" stroke-width="2.7"/>
<circle cx="342.00" cy="387.00" r="3.25" fill="#939393"/>
<circle cx="342.00" cy="390.20" r="3.25" fill="#939393"/>
<circle cx="342.00" cy="395.90" r="3.25" fill="#939393"/>
<circle cx="342.00" cy="437.40" r="3.25" fill="#939393"/>
<circle cx="342.00" cy="440.40" r="3.25" fill="#939393"/>
<circle cx="342.00" cy="445.80" r="3.25" fill="#939393"/>
<circle cx="342.00" cy="453.60" r="3.25" fill="#939393"/>
<circle cx="342.00" cy="479.30" r="3.25" fill="#939393"/>
<circle cx="342.00" cy="505.70" r="3.25" fill="#939393"/>
<path d="M403.90,426.60 C404.12,428.03 404.23,432.93 405.20,435.20 C406.17,437.47 408.02,438.52 409.70,440.20 C411.38,441.88 413.02,443.60 415.30,445.30 C417.58,447.00 420.53,448.72 423.40,450.40 C426.27,452.08 430.05,453.72 432.50,455.40 C434.95,457.08 436.95,459.15 438.10,460.50 C439.25,461.85 439.67,462.32 439.40,463.50 C439.13,464.68 438.50,466.08 436.50,467.60 C434.50,469.12 430.08,470.92 427.40,472.60 C424.72,474.28 422.58,476.02 420.40,477.70 C418.22,479.38 416.33,480.52 414.30,482.70 C412.27,484.88 409.75,488.10 408.20,490.80 C406.65,493.50 405.72,496.28 405.00,498.90 C404.28,501.52 404.08,505.23 403.90,506.50 Z" fill="#fbd4b6"/>
<path d="M403.90,426.60 C404.12,428.03 404.23,432.93 405.20,435.20 C406.17,437.47 408.02,438.52 409.70,440.20 C411.38,441.88 413.02,443.60 415.30,445.30 C417.58,447.00 420.53,448.72 423.40,450.40 C426.27,452.08 430.05,453.72 432.50,455.40 C434.95,457.08 436.95,459.15 438.10,460.50 C439.25,461.85 439.67,462.32 439.40,463.50 C439.13,464.68 438.50,466.08 436.50,467.60 C434.50,469.12 430.08,470.92 427.40,472.60 C424.72,474.28 422.58,476.02 420.40,477.70 C418.22,479.38 416.33,480.52 414.30,482.70 C412.27,484.88 409.75,488.10 408.20,490.80 C406.65,493.50 405.72,496.28 405.00,498.90 C404.28,501.52 404.08,505.23 403.90,506.50" fill="none" stroke="#ee6a10" stroke-width="2.7" stroke-linecap="round"/>
<circle cx="403.90" cy="457.00" r="3.15" fill="#ee6a10"/>
<circle cx="403.90" cy="460.00" r="3.15" fill="#ee6a10"/>
<circle cx="403.90" cy="463.00" r="3.15" fill="#ee6a10"/>
<circle cx="403.90" cy="447.00" r="3.15" fill="#ee6a10"/>
<circle cx="403.90" cy="469.00" r="3.15" fill="#ee6a10"/>
<circle cx="403.90" cy="474.00" r="3.15" fill="#ee6a10"/>
<circle cx="403.90" cy="458.00" r="3.15" fill="#ee6a10"/>
<circle cx="403.90" cy="477.00" r="3.15" fill="#ee6a10"/>
<circle cx="403.90" cy="486.30" r="3.15" fill="#ee6a10"/>
<line x1="408.90" x2="435.40" y1="462.50" y2="462.50" stroke="#ee6a10" stroke-width="1.9" stroke-dasharray="1.9 2.7"/>
<path d="M533.50,323.10 C533.48,324.25 533.58,327.15 533.40,330.00 C533.22,332.85 533.08,336.80 532.40,340.20 C531.72,343.60 531.08,346.98 529.30,350.40 C527.52,353.82 524.42,357.28 521.70,360.70 C518.98,364.12 515.73,367.50 513.00,370.90 C510.27,374.30 507.00,378.03 505.30,381.10 C503.60,384.17 503.05,386.75 502.80,389.30 C502.55,391.85 502.78,393.52 503.80,396.40 C504.82,399.28 507.20,403.18 508.90,406.60 C510.60,410.02 512.68,412.88 514.00,416.90 C515.32,420.92 516.12,426.70 516.80,430.70 C517.48,434.70 517.37,437.50 518.10,440.90 C518.83,444.30 519.92,447.70 521.20,451.10 C522.48,454.50 524.27,457.90 525.80,461.30 C527.33,464.70 529.22,468.10 530.40,471.50 C531.58,474.90 532.52,477.08 532.90,481.70 C533.28,486.32 532.73,496.28 532.70,499.20 L533.10,499.20 L533.10,323.10 Z" fill="#e2e3e2"/>
<path d="M533.50,323.10 C533.48,324.25 533.58,327.15 533.40,330.00 C533.22,332.85 533.08,336.80 532.40,340.20 C531.72,343.60 531.08,346.98 529.30,350.40 C527.52,353.82 524.42,357.28 521.70,360.70 C518.98,364.12 515.73,367.50 513.00,370.90 C510.27,374.30 507.00,378.03 505.30,381.10 C503.60,384.17 503.05,386.75 502.80,389.30 C502.55,391.85 502.78,393.52 503.80,396.40 C504.82,399.28 507.20,403.18 508.90,406.60 C510.60,410.02 512.68,412.88 514.00,416.90 C515.32,420.92 516.12,426.70 516.80,430.70 C517.48,434.70 517.37,437.50 518.10,440.90 C518.83,444.30 519.92,447.70 521.20,451.10 C522.48,454.50 524.27,457.90 525.80,461.30 C527.33,464.70 529.22,468.10 530.40,471.50 C531.58,474.90 532.52,477.08 532.90,481.70 C533.28,486.32 532.73,496.28 532.70,499.20" fill="none" stroke="#8e8e8e" stroke-width="2.8" stroke-linecap="round"/>
<line x1="505.23" x2="530.60" y1="395.90" y2="395.90" stroke="#8a8a8a" stroke-width="2" stroke-dasharray="2 2.55"/>
<line x1="533.10" y1="368.00" x2="593.10" y2="420.90" stroke="#e03a30" stroke-opacity="0.26" stroke-width="2.7"/>
<line x1="533.10" y1="380.60" x2="593.10" y2="432.00" stroke="#e03a30" stroke-opacity="0.26" stroke-width="2.7"/>
<line x1="533.10" y1="385.20" x2="593.10" y2="436.00" stroke="#e03a30" stroke-opacity="0.26" stroke-width="2.7"/>
<line x1="533.10" y1="387.70" x2="593.10" y2="434.00" stroke="#e03a30" stroke-opacity="0.26" stroke-width="2.7"/>
<line x1="533.10" y1="392.30" x2="593.10" y2="440.00" stroke="#e03a30" stroke-opacity="0.26" stroke-width="2.7"/>
<line x1="533.10" y1="402.00" x2="593.10" y2="438.00" stroke="#e03a30" stroke-opacity="0.26" stroke-width="2.7"/>
<line x1="533.10" y1="408.20" x2="593.10" y2="442.00" stroke="#e03a30" stroke-opacity="0.26" stroke-width="2.7"/>
<line x1="533.10" y1="415.80" x2="593.10" y2="444.00" stroke="#e03a30" stroke-opacity="0.26" stroke-width="2.7"/>
<line x1="533.10" y1="428.10" x2="593.10" y2="446.00" stroke="#e03a30" stroke-opacity="0.26" stroke-width="2.7"/>
<line x1="533.10" y1="438.30" x2="593.10" y2="448.00" stroke="#e03a30" stroke-opacity="0.26" stroke-width="2.7"/>
<line x1="533.10" y1="447.50" x2="593.10" y2="450.00" stroke="#e03a30" stroke-opacity="0.26" stroke-width="2.7"/>
<line x1="533.10" y1="452.30" x2="593.10" y2="452.80" stroke="#e03a30" stroke-opacity="0.26" stroke-width="2.7"/>
<circle cx="533.10" cy="368.00" r="3.25" fill="#939393"/>
<circle cx="533.10" cy="380.60" r="3.25" fill="#939393"/>
<circle cx="533.10" cy="385.20" r="3.25" fill="#939393"/>
<circle cx="533.10" cy="387.70" r="3.25" fill="#939393"/>
<circle cx="533.10" cy="392.30" r="3.25" fill="#939393"/>
<circle cx="533.10" cy="402.00" r="3.25" fill="#939393"/>
<circle cx="533.10" cy="408.20" r="3.25" fill="#939393"/>
<circle cx="533.10" cy="415.80" r="3.25" fill="#939393"/>
<circle cx="533.10" cy="428.10" r="3.25" fill="#939393"/>
<circle cx="533.10" cy="438.30" r="3.25" fill="#939393"/>
<circle cx="533.10" cy="447.50" r="3.25" fill="#939393"/>
<circle cx="533.10" cy="452.30" r="3.25" fill="#939393"/>
<path d="M593.10,407.30 C593.40,408.17 593.93,410.85 594.90,412.50 C595.87,414.15 597.83,415.63 598.90,417.20 C599.97,418.77 600.22,420.53 601.30,421.90 C602.38,423.27 603.37,424.28 605.40,425.40 C607.43,426.52 609.80,427.50 613.50,428.60 C617.20,429.70 623.12,430.90 627.60,432.00 C632.08,433.10 636.55,433.82 640.40,435.20 C644.25,436.58 650.32,438.83 650.70,440.30 C651.08,441.77 646.55,442.92 642.70,444.00 C638.85,445.08 632.47,445.77 627.60,446.80 C622.73,447.83 617.78,448.90 613.50,450.20 C609.22,451.50 604.82,453.28 601.90,454.60 C598.98,455.92 597.47,456.55 596.00,458.10 C594.53,459.65 593.58,462.93 593.10,463.90 Z" fill="#f5c2bf"/>
<path d="M593.10,407.30 C593.40,408.17 593.93,410.85 594.90,412.50 C595.87,414.15 597.83,415.63 598.90,417.20 C599.97,418.77 600.22,420.53 601.30,421.90 C602.38,423.27 603.37,424.28 605.40,425.40 C607.43,426.52 609.80,427.50 613.50,428.60 C617.20,429.70 623.12,430.90 627.60,432.00 C632.08,433.10 636.55,433.82 640.40,435.20 C644.25,436.58 650.32,438.83 650.70,440.30 C651.08,441.77 646.55,442.92 642.70,444.00 C638.85,445.08 632.47,445.77 627.60,446.80 C622.73,447.83 617.78,448.90 613.50,450.20 C609.22,451.50 604.82,453.28 601.90,454.60 C598.98,455.92 597.47,456.55 596.00,458.10 C594.53,459.65 593.58,462.93 593.10,463.90" fill="none" stroke="#dc2a1e" stroke-width="2.7" stroke-linecap="round"/>
<circle cx="593.10" cy="420.90" r="3.15" fill="#dc2a1e"/>
<circle cx="593.10" cy="432.00" r="3.15" fill="#dc2a1e"/>
<circle cx="593.10" cy="436.00" r="3.15" fill="#dc2a1e"/>
<circle cx="593.10" cy="434.00" r="3.15" fill="#dc2a1e"/>
<circle cx="593.10" cy="440.00" r="3.15" fill="#dc2a1e"/>
<circle cx="593.10" cy="438.00" r="3.15" fill="#dc2a1e"/>
<circle cx="593.10" cy="442.00" r="3.15" fill="#dc2a1e"/>
<circle cx="593.10" cy="444.00" r="3.15" fill="#dc2a1e"/>
<circle cx="593.10" cy="446.00" r="3.15" fill="#dc2a1e"/>
<circle cx="593.10" cy="448.00" r="3.15" fill="#dc2a1e"/>
<circle cx="593.10" cy="450.00" r="3.15" fill="#dc2a1e"/>
<circle cx="593.10" cy="452.80" r="3.15" fill="#dc2a1e"/>
<line x1="598.10" x2="646.70" y1="440.30" y2="440.30" stroke="#dc2a1e" stroke-width="1.9" stroke-dasharray="1.9 2.7"/>
</g>
<rect x="58" y="322.0" width="256" height="22.7" fill="#ffffff" fill-opacity="0.82"/>
<text x="64.8" y="344.1" font-size="18" font-weight="bold" fill="#111">Total of Trials 1-5, Free recall</text>
<line x1="57" x2="65.8" y1="557.26" y2="557.26" stroke="#111" stroke-width="1.7"/>
<line x1="672.2" x2="681" y1="557.26" y2="557.26" stroke="#111" stroke-width="1.7"/>
<text x="51.5" y="564.06" font-size="19.8" text-anchor="end" fill="#111">30</text>
<line x1="57" x2="65.8" y1="523.60" y2="523.60" stroke="#111" stroke-width="1.7"/>
<line x1="672.2" x2="681" y1="523.60" y2="523.60" stroke="#111" stroke-width="1.7"/>
<line x1="57" x2="65.8" y1="489.94" y2="489.94" stroke="#111" stroke-width="1.7"/>
<line x1="672.2" x2="681" y1="489.94" y2="489.94" stroke="#111" stroke-width="1.7"/>
<text x="51.5" y="496.74" font-size="19.8" text-anchor="end" fill="#111">50</text>
<line x1="57" x2="65.8" y1="456.28" y2="456.28" stroke="#111" stroke-width="1.7"/>
<line x1="672.2" x2="681" y1="456.28" y2="456.28" stroke="#111" stroke-width="1.7"/>
<line x1="57" x2="65.8" y1="422.62" y2="422.62" stroke="#111" stroke-width="1.7"/>
<line x1="672.2" x2="681" y1="422.62" y2="422.62" stroke="#111" stroke-width="1.7"/>
<text x="51.5" y="429.42" font-size="19.8" text-anchor="end" fill="#111">70</text>
<line x1="57" x2="65.8" y1="388.96" y2="388.96" stroke="#111" stroke-width="1.7"/>
<line x1="672.2" x2="681" y1="388.96" y2="388.96" stroke="#111" stroke-width="1.7"/>
<line x1="57" x2="65.8" y1="355.30" y2="355.30" stroke="#111" stroke-width="1.7"/>
<line x1="672.2" x2="681" y1="355.30" y2="355.30" stroke="#111" stroke-width="1.7"/>
<text x="51.5" y="362.10" font-size="19.8" text-anchor="end" fill="#111">90</text>
<text transform="translate(15.4,454.1) rotate(-90)" font-size="19.4" text-anchor="middle" fill="#111">Proportion recalled, %</text>
<g clip-path="url(#c2)">
<line x1="67" x2="671" y1="793.95" y2="793.95" stroke="#e6e8e6" stroke-width="1.5"/>
<line x1="67" x2="671" y1="726.65" y2="726.65" stroke="#e6e8e6" stroke-width="1.5"/>
<line x1="67" x2="671" y1="659.35" y2="659.35" stroke="#e6e8e6" stroke-width="1.5"/>
<path d="M146.00,594.00 C145.65,595.03 145.02,596.53 143.90,600.20 C142.78,603.87 141.00,611.73 139.30,616.00 C137.60,620.27 135.48,622.47 133.70,625.80 C131.92,629.13 130.05,632.60 128.60,636.00 C127.15,639.40 126.02,642.80 125.00,646.20 C123.98,649.60 123.27,653.00 122.50,656.40 C121.73,659.80 121.08,662.63 120.40,666.60 C119.72,670.57 119.08,676.23 118.40,680.20 C117.72,684.17 116.73,687.50 116.30,690.40 C115.87,693.30 115.70,695.38 115.80,697.60 C115.90,699.82 116.30,701.48 116.90,703.70 C117.50,705.92 118.38,708.00 119.40,710.90 C120.42,713.80 121.72,717.70 123.00,721.10 C124.28,724.50 125.73,727.90 127.10,731.30 C128.47,734.70 129.93,738.10 131.20,741.50 C132.47,744.90 133.68,748.58 134.70,751.70 C135.72,754.82 136.27,757.08 137.30,760.20 C138.33,763.32 139.80,766.98 140.90,770.40 C142.00,773.82 143.05,777.28 143.90,780.70 C144.75,784.12 145.40,787.50 146.00,790.90 C146.60,794.30 147.08,797.70 147.50,801.10 C147.92,804.50 148.28,805.43 148.50,811.30 C148.72,817.17 148.75,832.13 148.80,836.30 L149.00,836.30 L149.00,594.00 Z" fill="#e2e3e2"/>
<path d="M146.00,594.00 C145.65,595.03 145.02,596.53 143.90,600.20 C142.78,603.87 141.00,611.73 139.30,616.00 C137.60,620.27 135.48,622.47 133.70,625.80 C131.92,629.13 130.05,632.60 128.60,636.00 C127.15,639.40 126.02,642.80 125.00,646.20 C123.98,649.60 123.27,653.00 122.50,656.40 C121.73,659.80 121.08,662.63 120.40,666.60 C119.72,670.57 119.08,676.23 118.40,680.20 C117.72,684.17 116.73,687.50 116.30,690.40 C115.87,693.30 115.70,695.38 115.80,697.60 C115.90,699.82 116.30,701.48 116.90,703.70 C117.50,705.92 118.38,708.00 119.40,710.90 C120.42,713.80 121.72,717.70 123.00,721.10 C124.28,724.50 125.73,727.90 127.10,731.30 C128.47,734.70 129.93,738.10 131.20,741.50 C132.47,744.90 133.68,748.58 134.70,751.70 C135.72,754.82 136.27,757.08 137.30,760.20 C138.33,763.32 139.80,766.98 140.90,770.40 C142.00,773.82 143.05,777.28 143.90,780.70 C144.75,784.12 145.40,787.50 146.00,790.90 C146.60,794.30 147.08,797.70 147.50,801.10 C147.92,804.50 148.28,805.43 148.50,811.30 C148.72,817.17 148.75,832.13 148.80,836.30" fill="none" stroke="#8e8e8e" stroke-width="2.8" stroke-linecap="round"/>
<line x1="117.62" x2="146.50" y1="693.00" y2="693.00" stroke="#8a8a8a" stroke-width="2" stroke-dasharray="2 2.55"/>
<line x1="149.00" y1="632.90" x2="211.10" y2="708.10" stroke="#3453b0" stroke-opacity="0.26" stroke-width="2.7"/>
<line x1="149.00" y1="640.10" x2="211.10" y2="716.92" stroke="#3453b0" stroke-opacity="0.26" stroke-width="2.7"/>
<line x1="149.00" y1="654.50" x2="211.10" y2="718.30" stroke="#3453b0" stroke-opacity="0.26" stroke-width="2.7"/>
<line x1="149.00" y1="657.50" x2="211.10" y2="719.47" stroke="#3453b0" stroke-opacity="0.26" stroke-width="2.7"/>
<line x1="149.00" y1="661.00" x2="211.10" y2="722.05" stroke="#3453b0" stroke-opacity="0.26" stroke-width="2.7"/>
<line x1="149.00" y1="678.50" x2="211.10" y2="720.85" stroke="#3453b0" stroke-opacity="0.26" stroke-width="2.7"/>
<line x1="149.00" y1="685.80" x2="211.10" y2="724.67" stroke="#3453b0" stroke-opacity="0.26" stroke-width="2.7"/>
<line x1="149.00" y1="693.50" x2="211.10" y2="723.17" stroke="#3453b0" stroke-opacity="0.26" stroke-width="2.7"/>
<line x1="149.00" y1="697.00" x2="211.10" y2="730.44" stroke="#3453b0" stroke-opacity="0.26" stroke-width="2.7"/>
<line x1="149.00" y1="700.50" x2="211.10" y2="727.12" stroke="#3453b0" stroke-opacity="0.26" stroke-width="2.7"/>
<line x1="149.00" y1="703.50" x2="211.10" y2="726.82" stroke="#3453b0" stroke-opacity="0.26" stroke-width="2.7"/>
<line x1="149.00" y1="706.50" x2="211.10" y2="729.17" stroke="#3453b0" stroke-opacity="0.26" stroke-width="2.7"/>
<line x1="149.00" y1="714.50" x2="211.10" y2="731.76" stroke="#3453b0" stroke-opacity="0.26" stroke-width="2.7"/>
<line x1="149.00" y1="725.00" x2="211.10" y2="732.79" stroke="#3453b0" stroke-opacity="0.26" stroke-width="2.7"/>
<line x1="149.00" y1="736.50" x2="211.10" y2="735.83" stroke="#3453b0" stroke-opacity="0.26" stroke-width="2.7"/>
<line x1="149.00" y1="738.50" x2="211.10" y2="737.42" stroke="#3453b0" stroke-opacity="0.26" stroke-width="2.7"/>
<line x1="149.00" y1="750.70" x2="211.10" y2="734.15" stroke="#3453b0" stroke-opacity="0.26" stroke-width="2.7"/>
<line x1="149.00" y1="773.30" x2="211.10" y2="749.10" stroke="#3453b0" stroke-opacity="0.26" stroke-width="2.7"/>
<circle cx="149.00" cy="632.90" r="3.25" fill="#939393"/>
<circle cx="149.00" cy="640.10" r="3.25" fill="#939393"/>
<circle cx="149.00" cy="654.50" r="3.25" fill="#939393"/>
<circle cx="149.00" cy="657.50" r="3.25" fill="#939393"/>
<circle cx="149.00" cy="661.00" r="3.25" fill="#939393"/>
<circle cx="149.00" cy="678.50" r="3.25" fill="#939393"/>
<circle cx="149.00" cy="685.80" r="3.25" fill="#939393"/>
<circle cx="149.00" cy="693.50" r="3.25" fill="#939393"/>
<circle cx="149.00" cy="697.00" r="3.25" fill="#939393"/>
<circle cx="149.00" cy="700.50" r="3.25" fill="#939393"/>
<circle cx="149.00" cy="703.50" r="3.25" fill="#939393"/>
<circle cx="149.00" cy="706.50" r="3.25" fill="#939393"/>
<circle cx="149.00" cy="714.50" r="3.25" fill="#939393"/>
<circle cx="149.00" cy="725.00" r="3.25" fill="#939393"/>
<circle cx="149.00" cy="736.50" r="3.25" fill="#939393"/>
<circle cx="149.00" cy="738.50" r="3.25" fill="#939393"/>
<circle cx="149.00" cy="750.70" r="3.25" fill="#939393"/>
<circle cx="149.00" cy="773.30" r="3.25" fill="#939393"/>
<path d="M211.10,695.40 C211.48,696.83 212.33,701.88 213.40,704.00 C214.47,706.12 215.45,706.90 217.50,708.10 C219.55,709.30 222.30,710.17 225.70,711.20 C229.10,712.23 233.82,713.28 237.90,714.30 C241.98,715.32 247.13,716.03 250.20,717.30 C253.27,718.57 256.98,720.57 256.30,721.90 C255.62,723.23 250.18,723.92 246.10,725.30 C242.02,726.68 235.72,728.53 231.80,730.20 C227.88,731.87 225.15,733.60 222.60,735.30 C220.05,737.00 217.95,738.87 216.50,740.40 C215.05,741.93 214.42,742.78 213.90,744.50 C213.38,746.22 213.73,748.82 213.40,750.70 C213.07,752.58 212.28,753.93 211.90,755.80 C211.52,757.67 211.23,760.88 211.10,761.90 Z" fill="#c5cce6"/>
<path d="M211.10,695.40 C211.48,696.83 212.33,701.88 213.40,704.00 C214.47,706.12 215.45,706.90 217.50,708.10 C219.55,709.30 222.30,710.17 225.70,711.20 C229.10,712.23 233.82,713.28 237.90,714.30 C241.98,715.32 247.13,716.03 250.20,717.30 C253.27,718.57 256.98,720.57 256.30,721.90 C255.62,723.23 250.18,723.92 246.10,725.30 C242.02,726.68 235.72,728.53 231.80,730.20 C227.88,731.87 225.15,733.60 222.60,735.30 C220.05,737.00 217.95,738.87 216.50,740.40 C215.05,741.93 214.42,742.78 213.90,744.50 C213.38,746.22 213.73,748.82 213.40,750.70 C213.07,752.58 212.28,753.93 211.90,755.80 C211.52,757.67 211.23,760.88 211.10,761.90" fill="none" stroke="#2f4ea8" stroke-width="2.7" stroke-linecap="round"/>
<circle cx="211.10" cy="708.10" r="3.15" fill="#2f4ea8"/>
<circle cx="211.10" cy="716.92" r="3.15" fill="#2f4ea8"/>
<circle cx="211.10" cy="718.30" r="3.15" fill="#2f4ea8"/>
<circle cx="211.10" cy="719.47" r="3.15" fill="#2f4ea8"/>
<circle cx="211.10" cy="722.05" r="3.15" fill="#2f4ea8"/>
<circle cx="211.10" cy="720.85" r="3.15" fill="#2f4ea8"/>
<circle cx="211.10" cy="724.67" r="3.15" fill="#2f4ea8"/>
<circle cx="211.10" cy="723.17" r="3.15" fill="#2f4ea8"/>
<circle cx="211.10" cy="730.44" r="3.15" fill="#2f4ea8"/>
<circle cx="211.10" cy="727.12" r="3.15" fill="#2f4ea8"/>
<circle cx="211.10" cy="726.82" r="3.15" fill="#2f4ea8"/>
<circle cx="211.10" cy="729.17" r="3.15" fill="#2f4ea8"/>
<circle cx="211.10" cy="731.76" r="3.15" fill="#2f4ea8"/>
<circle cx="211.10" cy="732.79" r="3.15" fill="#2f4ea8"/>
<circle cx="211.10" cy="735.83" r="3.15" fill="#2f4ea8"/>
<circle cx="211.10" cy="737.42" r="3.15" fill="#2f4ea8"/>
<circle cx="211.10" cy="734.15" r="3.15" fill="#2f4ea8"/>
<circle cx="211.10" cy="749.10" r="3.15" fill="#2f4ea8"/>
<line x1="216.10" x2="252.30" y1="723.50" y2="723.50" stroke="#2f4ea8" stroke-width="1.9" stroke-dasharray="1.9 2.7"/>
<path d="M332.90,592.00 C332.33,593.73 330.70,598.62 329.50,602.40 C328.30,606.18 327.05,610.58 325.70,614.70 C324.35,618.82 322.73,622.97 321.40,627.10 C320.07,631.23 318.73,635.38 317.70,639.50 C316.67,643.62 315.88,647.68 315.20,651.80 C314.52,655.92 313.95,660.07 313.60,664.20 C313.25,668.33 313.13,672.48 313.10,676.60 C313.07,680.72 313.25,684.60 313.40,688.90 C313.55,693.20 313.58,698.10 314.00,702.40 C314.42,706.70 315.28,710.58 315.90,714.70 C316.52,718.82 316.88,722.97 317.70,727.10 C318.52,731.23 319.77,735.38 320.80,739.50 C321.83,743.62 322.87,747.68 323.90,751.80 C324.93,755.92 326.07,760.07 327.00,764.20 C327.93,768.33 328.78,772.48 329.50,776.60 C330.22,780.72 330.78,785.00 331.30,788.90 C331.82,792.80 332.00,793.98 332.60,800.00 C333.20,806.02 334.13,814.75 334.90,825.00 C335.67,835.25 336.82,855.42 337.20,861.50 L341.80,861.50 L341.80,592.00 Z" fill="#e2e3e2"/>
<path d="M332.90,592.00 C332.33,593.73 330.70,598.62 329.50,602.40 C328.30,606.18 327.05,610.58 325.70,614.70 C324.35,618.82 322.73,622.97 321.40,627.10 C320.07,631.23 318.73,635.38 317.70,639.50 C316.67,643.62 315.88,647.68 315.20,651.80 C314.52,655.92 313.95,660.07 313.60,664.20 C313.25,668.33 313.13,672.48 313.10,676.60 C313.07,680.72 313.25,684.60 313.40,688.90 C313.55,693.20 313.58,698.10 314.00,702.40 C314.42,706.70 315.28,710.58 315.90,714.70 C316.52,718.82 316.88,722.97 317.70,727.10 C318.52,731.23 319.77,735.38 320.80,739.50 C321.83,743.62 322.87,747.68 323.90,751.80 C324.93,755.92 326.07,760.07 327.00,764.20 C327.93,768.33 328.78,772.48 329.50,776.60 C330.22,780.72 330.78,785.00 331.30,788.90 C331.82,792.80 332.00,793.98 332.60,800.00 C333.20,806.02 334.13,814.75 334.90,825.00 C335.67,835.25 336.82,855.42 337.20,861.50" fill="none" stroke="#8e8e8e" stroke-width="2.8" stroke-linecap="round"/>
<line x1="316.49" x2="339.30" y1="708.80" y2="708.80" stroke="#8a8a8a" stroke-width="2" stroke-dasharray="2 2.55"/>
<line x1="341.80" y1="635.80" x2="404.30" y2="700.20" stroke="#f07a2a" stroke-opacity="0.26" stroke-width="2.7"/>
<line x1="341.80" y1="641.00" x2="404.30" y2="709.90" stroke="#f07a2a" stroke-opacity="0.26" stroke-width="2.7"/>
<line x1="341.80" y1="648.60" x2="404.30" y2="712.50" stroke="#f07a2a" stroke-opacity="0.26" stroke-width="2.7"/>
<line x1="341.80" y1="682.00" x2="404.30" y2="736.00" stroke="#f07a2a" stroke-opacity="0.26" stroke-width="2.7"/>
<line x1="341.80" y1="709.30" x2="404.30" y2="718.00" stroke="#f07a2a" stroke-opacity="0.26" stroke-width="2.7"/>
<line x1="341.80" y1="709.30" x2="404.30" y2="757.30" stroke="#f07a2a" stroke-opacity="0.26" stroke-width="2.7"/>
<line x1="341.80" y1="726.00" x2="404.30" y2="738.10" stroke="#f07a2a" stroke-opacity="0.26" stroke-width="2.7"/>
<line x1="341.80" y1="732.70" x2="404.30" y2="736.00" stroke="#f07a2a" stroke-opacity="0.26" stroke-width="2.7"/>
<line x1="341.80" y1="795.80" x2="404.30" y2="763.00" stroke="#f07a2a" stroke-opacity="0.26" stroke-width="2.7"/>
<line x1="341.80" y1="849.80" x2="404.30" y2="786.10" stroke="#f07a2a" stroke-opacity="0.26" stroke-width="2.7"/>
<circle cx="341.80" cy="635.80" r="3.25" fill="#939393"/>
<circle cx="341.80" cy="641.00" r="3.25" fill="#939393"/>
<circle cx="341.80" cy="648.60" r="3.25" fill="#939393"/>
<circle cx="341.80" cy="682.00" r="3.25" fill="#939393"/>
<circle cx="341.80" cy="709.30" r="3.25" fill="#939393"/>
<circle cx="341.80" cy="709.30" r="3.25" fill="#939393"/>
<circle cx="341.80" cy="726.00" r="3.25" fill="#939393"/>
<circle cx="341.80" cy="732.70" r="3.25" fill="#939393"/>
<circle cx="341.80" cy="795.80" r="3.25" fill="#939393"/>
<circle cx="341.80" cy="849.80" r="3.25" fill="#939393"/>
<path d="M404.30,651.50 C404.42,654.08 404.22,662.17 405.00,667.00 C405.78,671.83 406.98,676.00 409.00,680.50 C411.02,685.00 414.52,689.52 417.10,694.00 C419.68,698.48 422.87,702.92 424.50,707.40 C426.13,711.88 427.02,716.40 426.90,720.90 C426.78,725.40 425.03,729.90 423.80,734.40 C422.57,738.90 420.88,743.63 419.50,747.90 C418.12,752.17 416.50,756.82 415.50,760.00 C414.50,763.18 414.22,763.58 413.50,767.00 C412.78,770.42 412.07,776.00 411.20,780.50 C410.33,785.00 409.18,789.52 408.30,794.00 C407.42,798.48 406.50,802.92 405.90,807.40 C405.30,811.88 404.97,816.17 404.70,820.90 C404.43,825.63 404.37,833.32 404.30,835.80 Z" fill="#fbd4b6"/>
<path d="M404.30,651.50 C404.42,654.08 404.22,662.17 405.00,667.00 C405.78,671.83 406.98,676.00 409.00,680.50 C411.02,685.00 414.52,689.52 417.10,694.00 C419.68,698.48 422.87,702.92 424.50,707.40 C426.13,711.88 427.02,716.40 426.90,720.90 C426.78,725.40 425.03,729.90 423.80,734.40 C422.57,738.90 420.88,743.63 419.50,747.90 C418.12,752.17 416.50,756.82 415.50,760.00 C414.50,763.18 414.22,763.58 413.50,767.00 C412.78,770.42 412.07,776.00 411.20,780.50 C410.33,785.00 409.18,789.52 408.30,794.00 C407.42,798.48 406.50,802.92 405.90,807.40 C405.30,811.88 404.97,816.17 404.70,820.90 C404.43,825.63 404.37,833.32 404.30,835.80" fill="none" stroke="#ee6a10" stroke-width="2.7" stroke-linecap="round"/>
<circle cx="404.30" cy="700.20" r="3.15" fill="#ee6a10"/>
<circle cx="404.30" cy="709.90" r="3.15" fill="#ee6a10"/>
<circle cx="404.30" cy="712.50" r="3.15" fill="#ee6a10"/>
<circle cx="404.30" cy="736.00" r="3.15" fill="#ee6a10"/>
<circle cx="404.30" cy="718.00" r="3.15" fill="#ee6a10"/>
<circle cx="404.30" cy="757.30" r="3.15" fill="#ee6a10"/>
<circle cx="404.30" cy="738.10" r="3.15" fill="#ee6a10"/>
<circle cx="404.30" cy="736.00" r="3.15" fill="#ee6a10"/>
<circle cx="404.30" cy="763.00" r="3.15" fill="#ee6a10"/>
<circle cx="404.30" cy="786.10" r="3.15" fill="#ee6a10"/>
<line x1="409.30" x2="422.90" y1="735.10" y2="735.10" stroke="#ee6a10" stroke-width="1.9" stroke-dasharray="1.9 2.7"/>
<path d="M532.30,592.00 C532.00,593.35 531.40,597.07 530.50,600.10 C529.60,603.13 528.58,606.82 526.90,610.20 C525.22,613.58 522.83,617.02 520.40,620.40 C517.97,623.78 514.67,627.13 512.30,630.50 C509.93,633.87 507.58,637.23 506.20,640.60 C504.82,643.97 504.08,647.33 504.00,650.70 C503.92,654.07 504.75,657.43 505.70,660.80 C506.65,664.17 508.15,667.12 509.70,670.90 C511.25,674.68 513.33,679.15 515.00,683.50 C516.67,687.85 518.47,692.50 519.70,697.00 C520.93,701.50 521.60,706.00 522.40,710.50 C523.20,715.00 523.60,719.48 524.50,724.00 C525.40,728.52 526.80,733.08 527.80,737.60 C528.80,742.12 529.77,746.60 530.50,751.10 C531.23,755.60 531.78,758.75 532.20,764.60 C532.62,770.45 532.87,782.60 533.00,786.20 L532.50,786.20 L532.50,592.00 Z" fill="#e2e3e2"/>
<path d="M532.30,592.00 C532.00,593.35 531.40,597.07 530.50,600.10 C529.60,603.13 528.58,606.82 526.90,610.20 C525.22,613.58 522.83,617.02 520.40,620.40 C517.97,623.78 514.67,627.13 512.30,630.50 C509.93,633.87 507.58,637.23 506.20,640.60 C504.82,643.97 504.08,647.33 504.00,650.70 C503.92,654.07 504.75,657.43 505.70,660.80 C506.65,664.17 508.15,667.12 509.70,670.90 C511.25,674.68 513.33,679.15 515.00,683.50 C516.67,687.85 518.47,692.50 519.70,697.00 C520.93,701.50 521.60,706.00 522.40,710.50 C523.20,715.00 523.60,719.48 524.50,724.00 C525.40,728.52 526.80,733.08 527.80,737.60 C528.80,742.12 529.77,746.60 530.50,751.10 C531.23,755.60 531.78,758.75 532.20,764.60 C532.62,770.45 532.87,782.60 533.00,786.20" fill="none" stroke="#8e8e8e" stroke-width="2.8" stroke-linecap="round"/>
<line x1="506.11" x2="530.00" y1="654.30" y2="654.30" stroke="#8a8a8a" stroke-width="2" stroke-dasharray="2 2.55"/>
<line x1="532.50" y1="623.20" x2="594.90" y2="694.00" stroke="#e03a30" stroke-opacity="0.26" stroke-width="2.7"/>
<line x1="532.50" y1="644.00" x2="594.90" y2="700.00" stroke="#e03a30" stroke-opacity="0.26" stroke-width="2.7"/>
<line x1="532.50" y1="647.50" x2="594.90" y2="696.00" stroke="#e03a30" stroke-opacity="0.26" stroke-width="2.7"/>
<line x1="532.50" y1="651.00" x2="594.90" y2="703.00" stroke="#e03a30" stroke-opacity="0.26" stroke-width="2.7"/>
<line x1="532.50" y1="655.00" x2="594.90" y2="706.00" stroke="#e03a30" stroke-opacity="0.26" stroke-width="2.7"/>
<line x1="532.50" y1="670.70" x2="594.90" y2="698.00" stroke="#e03a30" stroke-opacity="0.26" stroke-width="2.7"/>
<line x1="532.50" y1="682.80" x2="594.90" y2="707.00" stroke="#e03a30" stroke-opacity="0.26" stroke-width="2.7"/>
<line x1="532.50" y1="697.70" x2="594.90" y2="709.50" stroke="#e03a30" stroke-opacity="0.26" stroke-width="2.7"/>
<line x1="532.50" y1="720.70" x2="594.90" y2="714.00" stroke="#e03a30" stroke-opacity="0.26" stroke-width="2.7"/>
<line x1="532.50" y1="730.50" x2="594.90" y2="729.20" stroke="#e03a30" stroke-opacity="0.26" stroke-width="2.7"/>
<circle cx="532.50" cy="623.20" r="3.25" fill="#939393"/>
<circle cx="532.50" cy="644.00" r="3.25" fill="#939393"/>
<circle cx="532.50" cy="647.50" r="3.25" fill="#939393"/>
<circle cx="532.50" cy="651.00" r="3.25" fill="#939393"/>
<circle cx="532.50" cy="655.00" r="3.25" fill="#939393"/>
<circle cx="532.50" cy="670.70" r="3.25" fill="#939393"/>
<circle cx="532.50" cy="682.80" r="3.25" fill="#939393"/>
<circle cx="532.50" cy="697.70" r="3.25" fill="#939393"/>
<circle cx="532.50" cy="720.70" r="3.25" fill="#939393"/>
<circle cx="532.50" cy="730.50" r="3.25" fill="#939393"/>
<path d="M594.90,674.30 C595.23,675.28 595.48,678.63 596.90,680.20 C598.32,681.77 600.38,682.53 603.40,683.70 C606.42,684.87 610.73,686.03 615.00,687.20 C619.27,688.37 624.52,689.53 629.00,690.70 C633.48,691.87 638.38,692.73 641.90,694.20 C645.42,695.67 650.30,697.95 650.10,699.50 C649.90,701.05 644.60,702.25 640.70,703.50 C636.80,704.75 630.98,705.63 626.70,707.00 C622.42,708.37 618.30,710.33 615.00,711.70 C611.70,713.07 609.03,714.03 606.90,715.20 C604.77,716.37 603.18,717.33 602.20,718.70 C601.22,720.07 601.10,721.83 601.00,723.40 C600.90,724.97 601.78,726.35 601.60,728.10 C601.42,729.85 600.77,731.97 599.90,733.90 C599.03,735.83 597.23,737.65 596.40,739.70 C595.57,741.75 595.15,745.12 594.90,746.20 Z" fill="#f5c2bf"/>
<path d="M594.90,674.30 C595.23,675.28 595.48,678.63 596.90,680.20 C598.32,681.77 600.38,682.53 603.40,683.70 C606.42,684.87 610.73,686.03 615.00,687.20 C619.27,688.37 624.52,689.53 629.00,690.70 C633.48,691.87 638.38,692.73 641.90,694.20 C645.42,695.67 650.30,697.95 650.10,699.50 C649.90,701.05 644.60,702.25 640.70,703.50 C636.80,704.75 630.98,705.63 626.70,707.00 C622.42,708.37 618.30,710.33 615.00,711.70 C611.70,713.07 609.03,714.03 606.90,715.20 C604.77,716.37 603.18,717.33 602.20,718.70 C601.22,720.07 601.10,721.83 601.00,723.40 C600.90,724.97 601.78,726.35 601.60,728.10 C601.42,729.85 600.77,731.97 599.90,733.90 C599.03,735.83 597.23,737.65 596.40,739.70 C595.57,741.75 595.15,745.12 594.90,746.20" fill="none" stroke="#dc2a1e" stroke-width="2.7" stroke-linecap="round"/>
<circle cx="594.90" cy="694.00" r="3.15" fill="#dc2a1e"/>
<circle cx="594.90" cy="700.00" r="3.15" fill="#dc2a1e"/>
<circle cx="594.90" cy="696.00" r="3.15" fill="#dc2a1e"/>
<circle cx="594.90" cy="703.00" r="3.15" fill="#dc2a1e"/>
<circle cx="594.90" cy="706.00" r="3.15" fill="#dc2a1e"/>
<circle cx="594.90" cy="698.00" r="3.15" fill="#dc2a1e"/>
<circle cx="594.90" cy="707.00" r="3.15" fill="#dc2a1e"/>
<circle cx="594.90" cy="709.50" r="3.15" fill="#dc2a1e"/>
<circle cx="594.90" cy="714.00" r="3.15" fill="#dc2a1e"/>
<circle cx="594.90" cy="729.20" r="3.15" fill="#dc2a1e"/>
<line x1="599.90" x2="646.10" y1="700.60" y2="700.60" stroke="#dc2a1e" stroke-width="1.9" stroke-dasharray="1.9 2.7"/>
</g>
<rect x="58" y="592.3" width="205" height="23.8" fill="#ffffff" fill-opacity="0.82"/>
<text x="65.5" y="613.7" font-size="18" font-weight="bold" fill="#111">Long delay, Free recall</text>
<line x1="57" x2="65.8" y1="827.60" y2="827.60" stroke="#111" stroke-width="1.7"/>
<line x1="672.2" x2="681" y1="827.60" y2="827.60" stroke="#111" stroke-width="1.7"/>
<text x="51.5" y="834.40" font-size="19.8" text-anchor="end" fill="#111">30</text>
<line x1="57" x2="65.8" y1="793.95" y2="793.95" stroke="#111" stroke-width="1.7"/>
<line x1="672.2" x2="681" y1="793.95" y2="793.95" stroke="#111" stroke-width="1.7"/>
<line x1="57" x2="65.8" y1="760.30" y2="760.30" stroke="#111" stroke-width="1.7"/>
<line x1="672.2" x2="681" y1="760.30" y2="760.30" stroke="#111" stroke-width="1.7"/>
<text x="51.5" y="767.10" font-size="19.8" text-anchor="end" fill="#111">50</text>
<line x1="57" x2="65.8" y1="726.65" y2="726.65" stroke="#111" stroke-width="1.7"/>
<line x1="672.2" x2="681" y1="726.65" y2="726.65" stroke="#111" stroke-width="1.7"/>
<line x1="57" x2="65.8" y1="693.00" y2="693.00" stroke="#111" stroke-width="1.7"/>
<line x1="672.2" x2="681" y1="693.00" y2="693.00" stroke="#111" stroke-width="1.7"/>
<text x="51.5" y="699.80" font-size="19.8" text-anchor="end" fill="#111">70</text>
<line x1="57" x2="65.8" y1="659.35" y2="659.35" stroke="#111" stroke-width="1.7"/>
<line x1="672.2" x2="681" y1="659.35" y2="659.35" stroke="#111" stroke-width="1.7"/>
<line x1="57" x2="65.8" y1="625.70" y2="625.70" stroke="#111" stroke-width="1.7"/>
<line x1="672.2" x2="681" y1="625.70" y2="625.70" stroke="#111" stroke-width="1.7"/>
<text x="51.5" y="632.50" font-size="19.8" text-anchor="end" fill="#111">90</text>
<text transform="translate(15.4,725.6) rotate(-90)" font-size="19.4" text-anchor="middle" fill="#111">Proportion recalled, %</text>
<rect x="57" y="52" width="624" height="809.5" fill="none" stroke="#111" stroke-width="2"/>
<line x1="57" x2="681" y1="321" y2="321" stroke="#111" stroke-width="2"/>
<line x1="57" x2="681" y1="591.3" y2="591.3" stroke="#111" stroke-width="2"/>
<text x="176.8" y="887.3" font-size="22.5" text-anchor="middle" fill="#111">CVLT</text>
<text x="369.3" y="887.3" font-size="22.5" text-anchor="middle" fill="#111">RAVLT</text>
<text x="565.4" y="887.3" font-size="22.5" text-anchor="middle" fill="#111">HVLT</text>
<line x1="532.5" y1="508.1" x2="584" y2="508.1" stroke="#111" stroke-width="2.2"/>
<path d="M595.3,508.1 L575.8,498 L581.5,508.1 L575.8,518.2 Z" fill="#111"/>
<text x="564" y="531" font-size="15" font-style="italic" text-anchor="middle" fill="#111">Harmonization</text>
<text x="564" y="548.6" font-size="15" font-style="italic" text-anchor="middle" fill="#111">&amp; adjustment</text>
<text x="113.5" y="13.7" font-size="17" text-anchor="end" fill="#111">Single Site</text>
<text x="113.5" y="33.3" font-size="17" text-anchor="end" fill="#111">Means:</text>
<circle cx="124.2" cy="19.8" r="3.1" fill="#939393"/>
<text x="187.5" y="13.7" font-size="17" text-anchor="middle" fill="#111">Unadjusted</text>
<text x="187.5" y="33.3" font-size="17" text-anchor="middle" fill="#111">Raw Scores:</text>
<rect x="242.8" y="8.7" width="20.5" height="20.5" fill="#e2e3e2" stroke="#999" stroke-width="3"/>
<text x="378" y="13.7" font-size="17" text-anchor="end" fill="#111">Harmonized</text>
<text x="376.5" y="33.3" font-size="17" text-anchor="end" fill="#111">&amp; Adjusted:</text>
<text x="386.1" y="25" font-size="18.4" font-weight="bold" fill="#2f4ea8">CVLT</text>
<rect x="442.3" y="8" width="20.5" height="20.5" fill="#c5cce6" stroke="#2f4ea8" stroke-width="2.8"/>
<text x="477.3" y="25" font-size="18.4" font-weight="bold" fill="#ee6a10">RAVLT</text>
<rect x="544.2" y="8" width="20.5" height="20.5" fill="#fbd4b6" stroke="#ee6a10" stroke-width="2.8"/>
<text x="581.4" y="25" font-size="18.4" font-weight="bold" fill="#dc2a1e">HVLT</text>
<rect x="638.3" y="8" width="20.5" height="20.5" fill="#f5c2bf" stroke="#dc2a1e" stroke-width="2.8"/>
</svg>
</body></html>
